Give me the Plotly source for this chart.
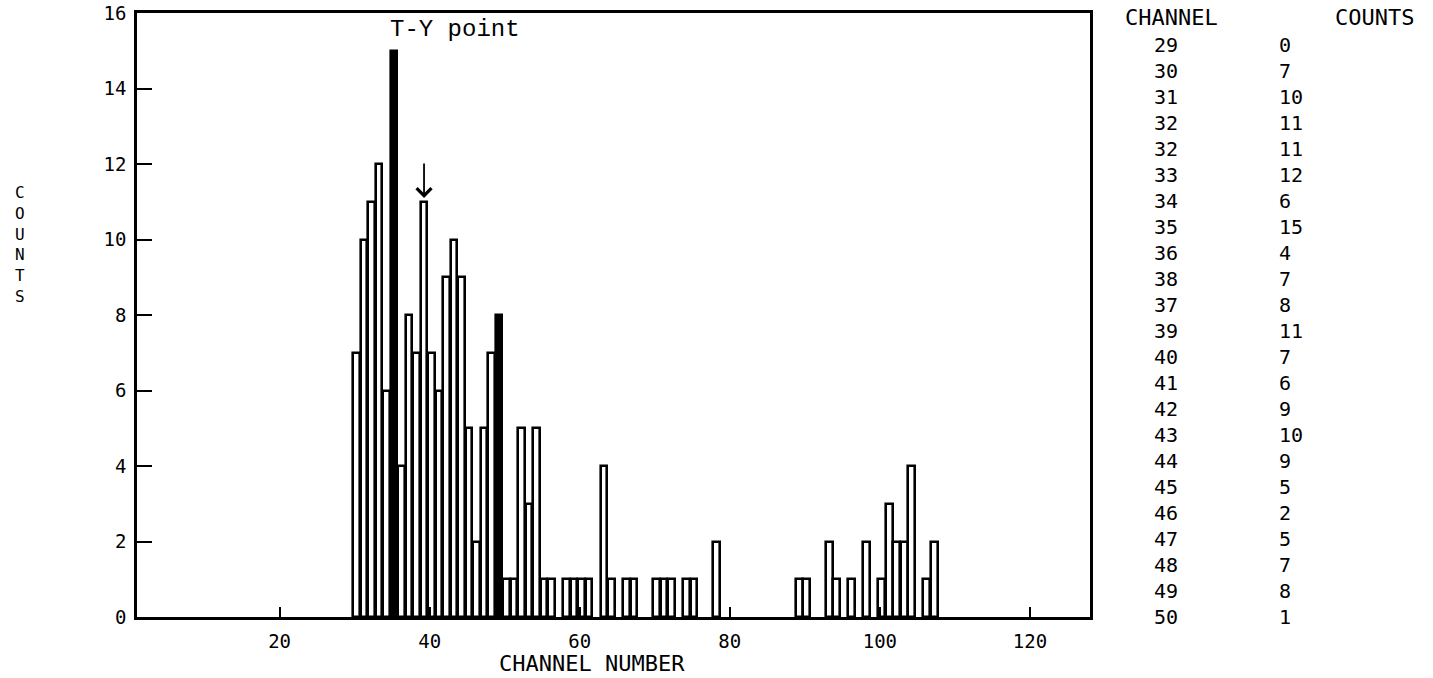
import plotly.graph_objects as go

# ---- histogram data ----
hist_channels = [30, 31, 32, 33, 34, 35, 36, 37, 38, 39, 40, 41, 42, 43, 44, 45, 46, 47, 48, 49,
                 50, 51, 52, 53, 54, 55, 56, 58, 59, 60, 61, 63, 64, 66, 67, 70, 71, 72, 74, 75,
                 78, 89, 90, 93, 94, 96, 98, 100, 101, 102, 103, 104, 106, 107]
hist_counts = [7, 10, 11, 12, 6, 15, 4, 8, 7, 11, 7, 6, 9, 10, 9, 5, 2, 5, 7, 8,
               1, 1, 5, 3, 5, 1, 1, 1, 1, 1, 1, 4, 1, 1, 1, 1, 1, 1, 1, 1,
               2, 1, 1, 2, 1, 1, 2, 1, 3, 2, 2, 4, 1, 2]
filled_channels = [35, 49]
marked_channel = 39

# ---- printed table ----
table_channels = ["29", "30", "31", "32", "32", "33", "34", "35", "36", "38", "37", "39",
                  "40", "41", "42", "43", "44", "45", "46", "47", "48", "49", "50"]
table_counts = ["0", "7", "10", "11", "11", "12", "6", "15", "4", "7", "8", "11",
                "7", "6", "9", "10", "9", "5", "2", "5", "7", "8", "1"]

x_ticks = [20, 40, 60, 80, 100, 120]
y_ticks = [0, 2, 4, 6, 8, 10, 12, 14, 16]

W, H = 1433, 678
L, R, T, B = 137, 343, 13, 61
PW, PH = W - L - R, H - T - B

def px(x):
    return (x - L) / PW

def py(y):
    return (H - B - y) / PH

MONO = "DejaVu Sans Mono"

fig = go.Figure()
fig.add_bar(
    x=hist_channels, y=hist_counts, width=0.88, offset=-0.19,
    marker=dict(color=["black" if c in filled_channels else "white" for c in hist_channels],
                line=dict(color="black", width=2.6)),
    showlegend=False, hoverinfo="x+y",
)

def note(text, x, y, size, xanchor="center", family=MONO, align="center"):
    return dict(text=text, xref="paper", yref="paper", x=px(x), y=py(y),
                xanchor=xanchor, yanchor="middle", align=align, showarrow=False,
                font=dict(family=family, size=size, color="black"))

annotations = [
    note("T-Y point", 455, 29, 24, family="Liberation Mono"),
    dict(text="", xref="x", yref="y", x=marked_channel + 0.25,
         y=hist_counts[hist_channels.index(marked_channel)] + 0.1,
         ax=0, ay=-36, showarrow=True, arrowhead=4, arrowsize=1.6, arrowwidth=1.8,
         arrowcolor="black", standoff=0),
    note("<br>".join(list("COUNTS")), 20, 245, 16),
    note("CHANNEL NUMBER", 592, 663, 22),
    note("CHANNEL", 1123, 17, 22, xanchor="left"),
    note("COUNTS", 1333, 17, 22, xanchor="left"),
    note("<br>".join(table_channels), 1152, 331, 20, xanchor="left", align="left"),
    note("<br>".join(table_counts), 1277, 331, 20, xanchor="left", align="left"),
]

axis_common = dict(showline=True, linecolor="black", linewidth=2.5, mirror=True,
                   showgrid=False, zeroline=False, ticks="inside", tickcolor="black",
                   tickwidth=2, automargin=False, ticklabeloverflow="allow",
                   tickfont=dict(family=MONO, size=19, color="black"))

fig.update_layout(
    width=W, height=H,
    margin=dict(l=L, r=R, t=T, b=B, autoexpand=False),
    paper_bgcolor="white", plot_bgcolor="white",
    bargap=0,
    xaxis=dict(range=[1, 128], tickvals=x_ticks, ticktext=[str(v) for v in x_ticks],
               ticklen=10, ticklabelstandoff=5, **axis_common),
    yaxis=dict(range=[0, 16], tickvals=y_ticks, ticktext=[str(v) for v in y_ticks],
               ticklen=15, ticklabelstandoff=4, **axis_common),
    annotations=annotations,
)

fig.write_html("out.html")
